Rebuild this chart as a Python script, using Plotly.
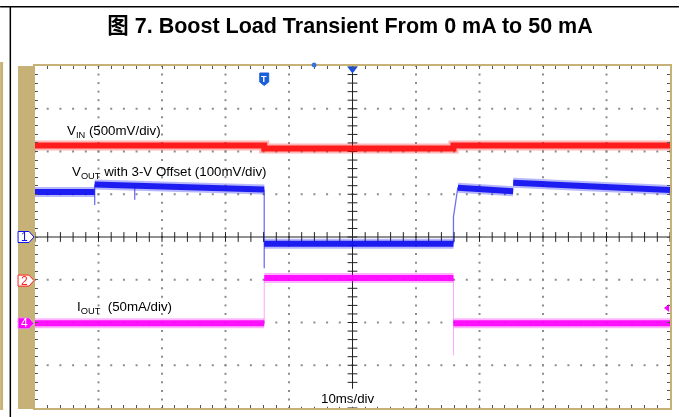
import numpy as np
import plotly.graph_objects as go

# ---------------- data ----------------
TITLE = "图 7. Boost Load Transient From 0 mA to 50 mA"
X_RANGE_MS = [-50, 50]      # 10 ms/div, 10 divisions
Y_RANGE_DIV = [-4, 4]       # 8 vertical divisions

# V_IN (red): time (ms), screen level (div)
vin_t = [-50, -13.9, -13.9, 15.9, 15.9, 50]
vin_lvl = [2.14, 2.14, 2.07, 2.07, 2.14, 2.14]

# V_OUT (blue) plateaus
vout_t = [-50, -40.6, None, -40.6, -13.9, None, -13.9, 15.9, None, 16.6, 25.3, None, 25.3, 50]
vout_lvl = [1.05, 1.05, None, 1.23, 1.11, None, -0.16, -0.16, None, 1.15, 1.07, None, 1.27, 1.10]
# V_OUT fast edges / spikes
vout_edge_t = [-40.6, -40.6, -40.6, None, -34.3, -34.3, None, -13.9, -13.9, None, 15.9, 15.9, 16.6]
vout_edge_lvl = [1.05, 0.75, 1.23, None, 1.19, 0.87, None, 1.11, -0.73, None, -0.16, 0.47, 1.17]

# I_OUT (magenta)
iout_t = [-50, -13.9, None, -13.9, 15.9, None, 15.9, 50]
iout_lvl = [-2.02, -2.02, None, -0.96, -0.96, None, -2.02, -2.02]
iout_edge_t = [-13.9, -13.9, None, 15.9, 15.9]
iout_edge_lvl = [-2.02, -0.96, None, -0.96, -2.77]

# channel reference markers
ch_names = ["1", "2", "4"]
ch_lvl = [0.0, -1.02, -2.02]
trigger_t = -13.9

label_vin = "V<sub>IN</sub> (500mV/div)"
label_vout = "V<sub>OUT</sub> with 3-V Offset (100mV/div)"
label_iout = "I<sub>OUT</sub>&nbsp; (50mA/div)"
label_time = "10ms/div"

# ---------------- style ----------------
W, H = 681, 417
L, R, T, B = 35, 9, 66, 9
PW, PH = W - L - R, H - T - B
TAN = "#c6b277"
RED = "#ff1010"
BLUE = "#1010f0"
MAG = "#ff00ff"
FONT = "Liberation Sans, Arial, Noto Sans CJK SC, sans-serif"


def pp(px, py):
    """pixel -> paper coords"""
    return (px - L) / PW, (H - B - py) / PH


def lvl_py(lvl):
    return T + PH / 2 - lvl * PH / 8


fig = go.Figure()

# dotted graticule
gx, gy = [], []
for xd in range(-4, 5):
    if xd == 0:
        continue
    for k in range(41):
        gx.append(xd * 10)
        gy.append(-4 + k * 0.2)
for yd in range(-3, 4):
    if yd == 0:
        continue
    for k in range(51):
        gx.append(-50 + k * 2)
        gy.append(yd)
fig.add_trace(go.Scatter(x=gx, y=gy, mode="markers", hoverinfo="skip",
                         marker=dict(symbol="square", size=2, color="#8c8c8c", line_width=0)))

# centre cross with ticks
fig.add_trace(go.Scatter(x=[0, 0, None, -50, 50], y=[-4, 4, None, 0, 0], mode="lines", hoverinfo="skip",
                         line=dict(color="#222", width=1)))
cy = [-4 + k * 0.2 for k in range(41)]
fig.add_trace(go.Scatter(x=[0] * len(cy), y=cy, mode="markers", hoverinfo="skip",
                         marker=dict(symbol="line-ew", size=7, line=dict(color="#222", width=1))))
cx = [-50 + k * 2 for k in range(51)]
fig.add_trace(go.Scatter(x=cx, y=[0] * len(cx), mode="markers", hoverinfo="skip",
                         marker=dict(symbol="line-ns", size=7, line=dict(color="#222", width=1))))


def band(t, v, color):
    fig.add_trace(go.Scatter(x=t, y=v, mode="lines", hoverinfo="skip", opacity=0.3,
                             line=dict(color=color, width=10)))
    fig.add_trace(go.Scatter(x=t, y=v, mode="lines", hoverinfo="skip", opacity=0.92,
                             line=dict(color=color, width=6)))


band(vin_t, vin_lvl, RED)
band(iout_t, iout_lvl, MAG)
fig.add_trace(go.Scatter(x=iout_edge_t, y=iout_edge_lvl, mode="lines", hoverinfo="skip", opacity=0.35,
                         line=dict(color=MAG, width=1)))
band(vout_t, vout_lvl, BLUE)
fig.add_trace(go.Scatter(x=vout_edge_t, y=vout_edge_lvl, mode="lines", hoverinfo="skip", opacity=0.6,
                         line=dict(color=BLUE, width=1.3)))

# top / right markers
fig.add_trace(go.Scatter(x=[0], y=[3.93], mode="markers", hoverinfo="skip", cliponaxis=False,
                         marker=dict(symbol="triangle-down", size=9, color="#1a50e0", line_width=0)))
fig.add_trace(go.Scatter(x=[49.6], y=[-1.66], mode="markers", hoverinfo="skip", cliponaxis=False,
                         marker=dict(symbol="triangle-left", size=7, color=MAG, line_width=0)))

shapes = []


def prect(px0, py0, px1, py1, color, layer="above"):
    a = pp(px0, py0)
    b = pp(px1, py1)
    shapes.append(dict(type="rect", xref="paper", yref="paper", x0=a[0], x1=b[0], y0=b[1], y1=a[1],
                       fillcolor=color, line_width=0, layer=layer))


# outer page frame lines
prect(0, 6, W, 7.5, "black")
prect(9.5, 6, 11, H, "black")
# tan strips
prect(18, 66, 35, 409, TAN)
prect(0, 62, 3, 410, TAN)

annotations = []
# channel markers
ch_style = {"1": ("white", BLUE, BLUE), "2": ("white", "#ff2020", "#ff2020"), "4": (MAG, "#d9a0d9", "white")}
for name, lv in zip(ch_names, ch_lvl):
    fill, border, txt = ch_style[name]
    c = lvl_py(lv)
    pts = [(18, c - 5.5), (29, c - 5.5), (34, c), (29, c + 5.5), (18, c + 5.5)]
    path = "M " + " L ".join("{:.5f},{:.5f}".format(*pp(px, py)) for px, py in pts) + " Z"
    shapes.append(dict(type="path", xref="paper", yref="paper", path=path, fillcolor=fill,
                       line=dict(color=border, width=1)))
    xa, ya = pp(24.5, c)
    annotations.append(dict(xref="paper", yref="paper", x=xa, y=ya, text=name, showarrow=False,
                            font=dict(family=FONT, size=12, color=txt), xanchor="center", yanchor="middle"))

# trigger "T" shield
tpx = L + (trigger_t - X_RANGE_MS[0]) / 100 * PW
pts = [(tpx - 4.5, 73), (tpx + 4.5, 73), (tpx + 4.5, 82), (tpx, 85.5), (tpx - 4.5, 82)]
path = "M " + " L ".join("{:.5f},{:.5f}".format(*pp(px, py)) for px, py in pts) + " Z"
shapes.append(dict(type="path", xref="paper", yref="paper", path=path, fillcolor="#1a5fd8",
                   line=dict(color="#1a5fd8", width=1)))
xa, ya = pp(tpx, 78.5)
annotations.append(dict(xref="paper", yref="paper", x=xa, y=ya, text="<b>T</b>", showarrow=False,
                        font=dict(family=FONT, size=9, color="white"), xanchor="center", yanchor="middle"))
# small blue marker at top edge
a = pp(312.5, 62.5); b = pp(317.5, 67.5)
shapes.append(dict(type="circle", xref="paper", yref="paper", x0=a[0], x1=b[0], y0=b[1], y1=a[1],
                   fillcolor="#3a70e0", line_width=0))

# white box behind time-base text
shapes.append(dict(type="rect", xref="x", yref="y", x0=-9.5, x1=9.6, y0=-3.972, y1=-3.55,
                   fillcolor="white", line_width=0, layer="above"))

# text labels
for txt, t, lv in [(label_vin, -45.3, 2.47), (label_vout, -44.5, 1.52), (label_iout, -43.7, -1.64)]:
    annotations.append(dict(x=t, y=lv, xref="x", yref="y", text=txt, showarrow=False,
                            xanchor="left", yanchor="middle",
                            font=dict(family=FONT, size=13.3, color="black")))
annotations.append(dict(x=-0.7, y=-3.78, xref="x", yref="y", text=label_time, showarrow=False,
                        xanchor="center", yanchor="middle", font=dict(family=FONT, size=13.3, color="black")))

fig.update_layout(
    width=W, height=H, autosize=False,
    margin=dict(l=L, r=R, t=T, b=B, pad=0),
    paper_bgcolor="white", plot_bgcolor="white",
    showlegend=False,
    title=dict(text="<b>" + TITLE + "</b>", x=350 / W, xref="container", xanchor="center",
               y=1 - 25 / H, yref="container", yanchor="middle",
               font=dict(family=FONT, size=21.5, color="black")),
    shapes=shapes, annotations=annotations,
    xaxis=dict(range=X_RANGE_MS, showgrid=False, zeroline=False, showticklabels=False,
               ticks="inside", ticklen=3, tickcolor="#555", tickwidth=1, tick0=0, dtick=2,
               showline=True, linecolor=TAN, linewidth=2, mirror="ticks", fixedrange=True),
    yaxis=dict(range=Y_RANGE_DIV, showgrid=False, zeroline=False, showticklabels=False,
               ticks="inside", ticklen=3, tickcolor="#555", tickwidth=1, tick0=0, dtick=0.2,
               showline=True, linecolor=TAN, linewidth=2, mirror="ticks", fixedrange=True),
)

fig.write_html("out.html", config={"displayModeBar": False},
               post_script="document.body.style.margin='0';document.body.style.overflow='hidden';")
